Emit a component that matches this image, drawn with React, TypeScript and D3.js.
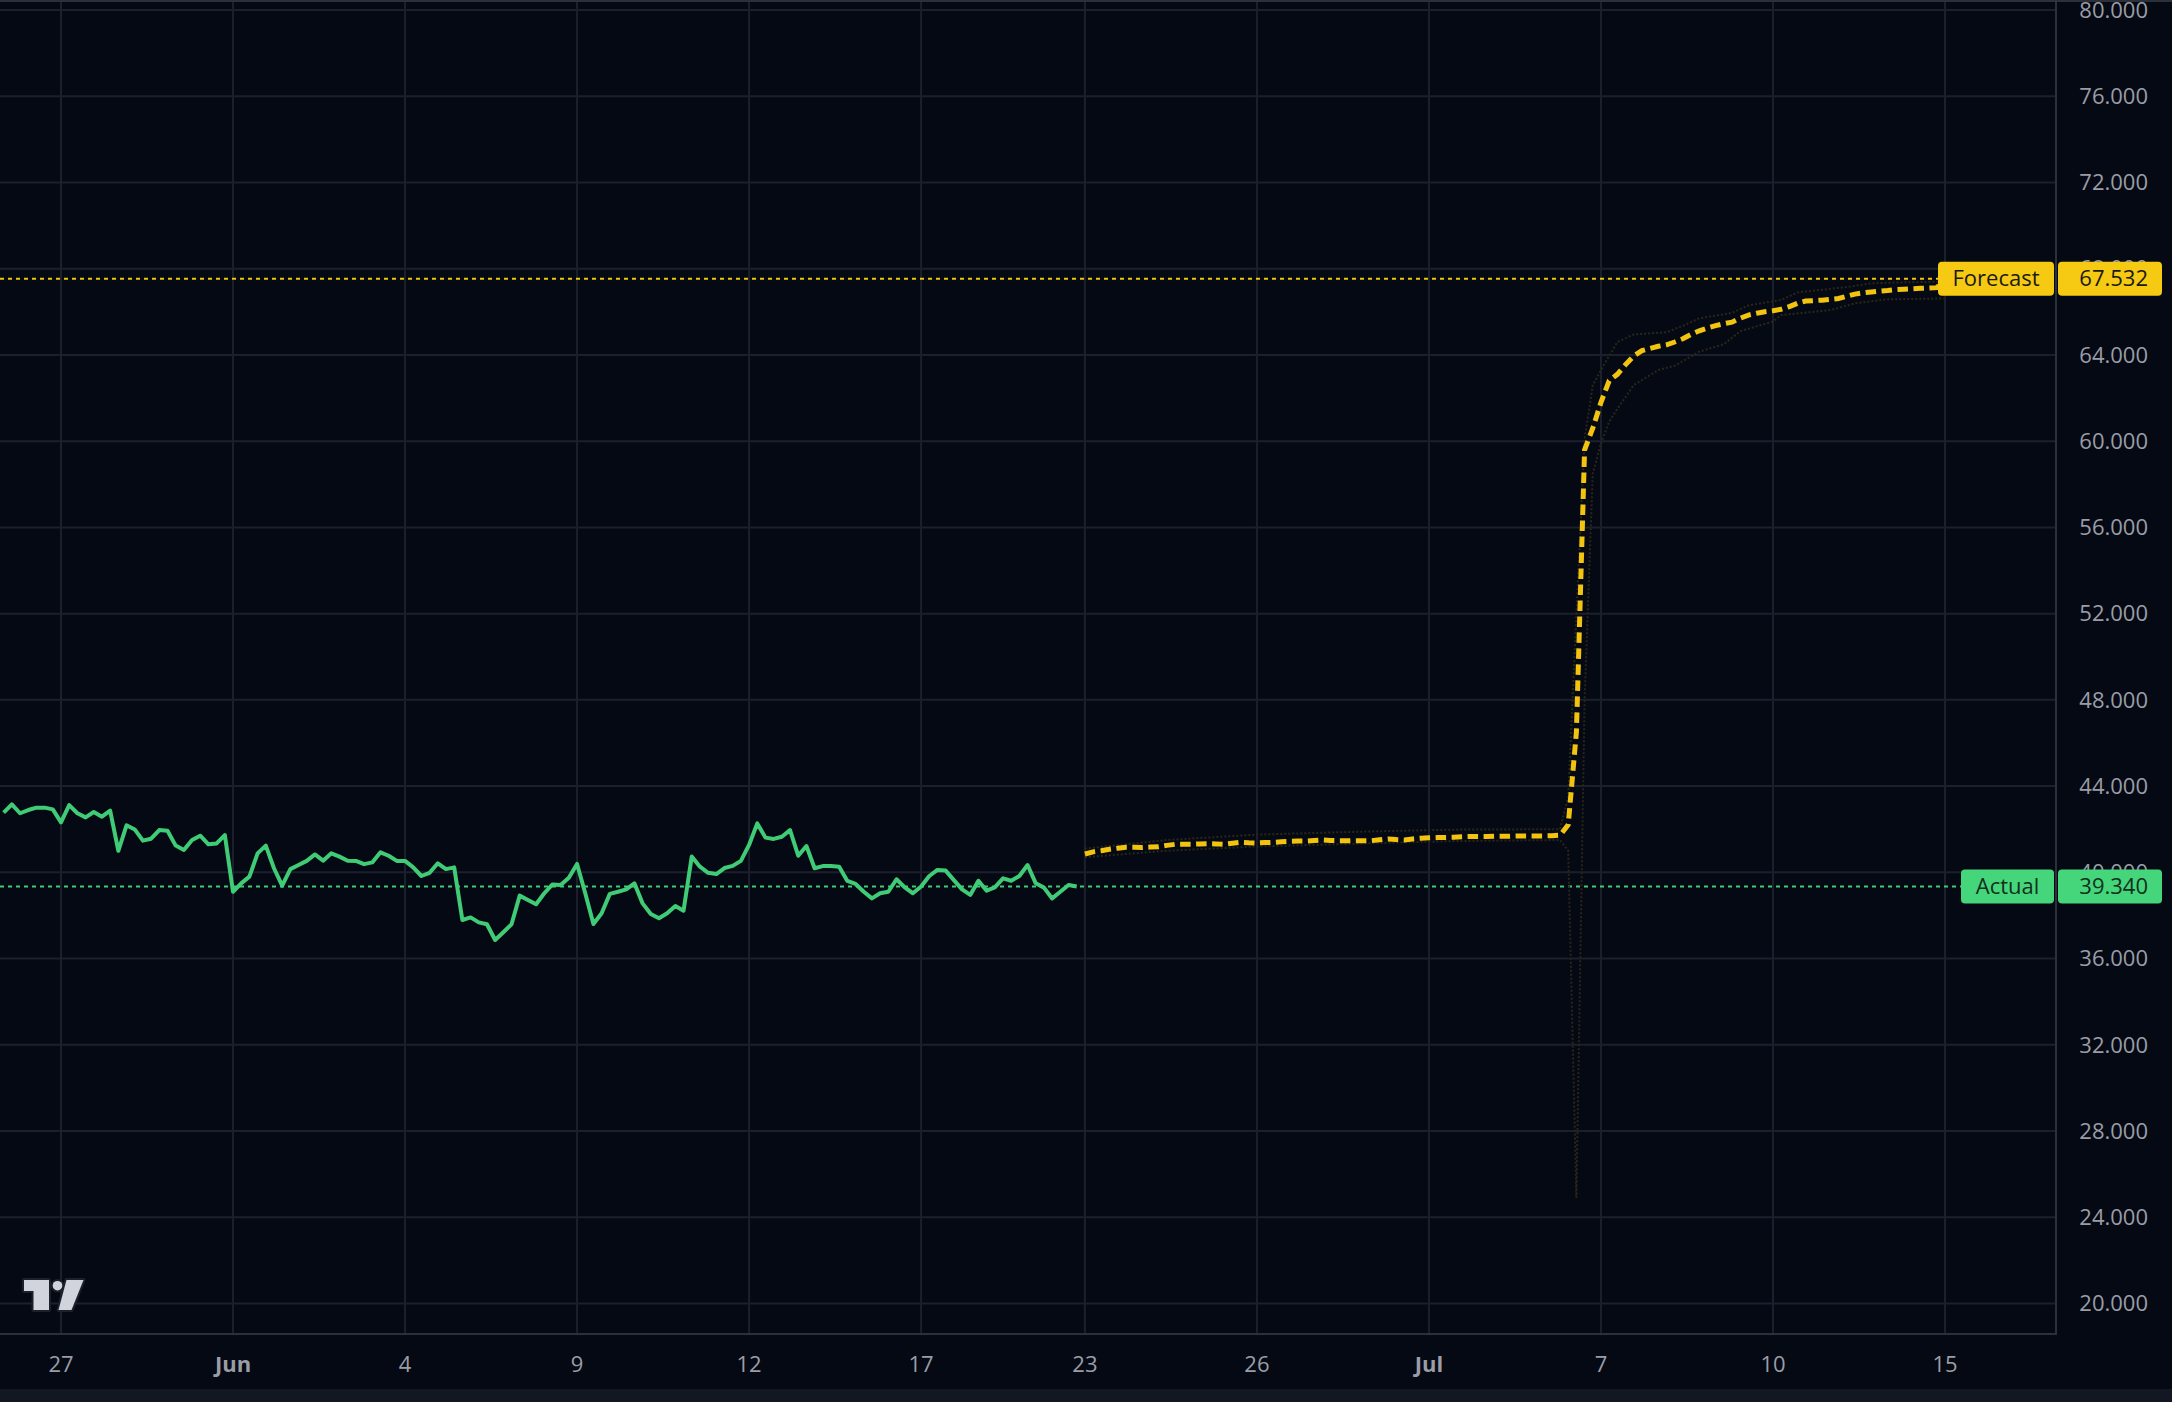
import React from "react";
import * as d3 from "d3";

// bar index of the first actual value; one bar per step
const actualStart = -7;
const actualValues = [
  42.77, 43.15, 42.74, 42.89, 43.0, 43.0, 42.92,
  42.32, 43.12, 42.74, 42.55, 42.8, 42.58, 42.86,
  41.0, 42.18, 41.99, 41.47, 41.56, 41.96, 41.93,
  41.24, 41.04, 41.5, 41.7, 41.3, 41.34, 41.73,
  39.1, 39.49, 39.8, 40.88, 41.24, 40.19, 39.38,
  40.15, 40.34, 40.53, 40.83, 40.54, 40.88, 40.73,
  40.54, 40.53, 40.38, 40.46, 40.93, 40.77, 40.53,
  40.53, 40.23, 39.83, 39.98, 40.42, 40.15, 40.23,
  37.79, 37.91, 37.68, 37.59, 36.86, 37.22, 37.59,
  38.92, 38.72, 38.52, 39.03, 39.44, 39.41, 39.75,
  40.39, 39.03, 37.6, 38.1, 39.0, 39.1, 39.21,
  39.49, 38.56, 38.07, 37.87, 38.1, 38.44, 38.22,
  40.73, 40.26, 39.98, 39.92, 40.2, 40.3, 40.53,
  41.27, 42.27, 41.61, 41.55, 41.65, 41.96, 40.77,
  41.22, 40.19, 40.29, 40.29, 40.26, 39.6, 39.46,
  39.1, 38.79, 39.03, 39.1, 39.68, 39.3, 39.03,
  39.34, 39.83, 40.11, 40.08, 39.64, 39.21, 38.95,
  39.61, 39.15, 39.3, 39.72, 39.61, 39.83, 40.34,
  39.49, 39.29, 38.79, 39.1, 39.41, 39.34,
];

const forecastStart = 125;
const forecastValues = [
  40.85, 40.95, 41.0, 41.07, 41.12, 41.16, 41.16, 41.15, 41.17, 41.19,
  41.25, 41.3, 41.3, 41.3, 41.32, 41.33, 41.32, 41.3, 41.35, 41.39,
  41.37, 41.36, 41.38, 41.39, 41.42, 41.44, 41.45, 41.45, 41.48, 41.5,
  41.48, 41.47, 41.47, 41.47, 41.47, 41.47, 41.51, 41.55, 41.52, 41.5,
  41.55, 41.58, 41.6, 41.61, 41.62, 41.63, 41.65, 41.66, 41.66, 41.66,
  41.67, 41.67, 41.68, 41.69, 41.69, 41.69, 41.69, 41.7, 41.72, 42.2,
  46.5, 59.6, 60.6, 61.8, 62.8, 63.1, 63.55, 63.95, 64.2, 64.3,
  64.4, 64.47, 64.6, 64.75, 64.95, 65.12, 65.25, 65.36, 65.45, 65.52,
  65.7, 65.85, 65.93, 66.0, 66.05, 66.12, 66.24, 66.4, 66.5, 66.52,
  66.54, 66.58, 66.62, 66.72, 66.82, 66.88, 66.92, 66.96, 66.99, 67.03,
  67.05, 67.07, 67.09, 67.1, 67.12, 67.532,
];

// faint forecast band (sparse readings)
const upperBandBars = [125, 135, 146, 160, 170, 183, 184, 185, 186, 187, 188, 190, 192, 196, 198, 200, 204, 206, 210, 212, 218, 221, 224, 230];
const upperBandValues = [41.1, 41.5, 41.75, 41.9, 41.98, 42.0, 43.5, 52.0, 60.1, 62.6, 63.3, 64.6, 64.95, 65.05, 65.35, 65.7, 65.95, 66.3, 66.55, 66.9, 67.15, 67.32, 67.36, 67.4];
const lowerBandBars = [125, 135, 146, 160, 170, 183, 184, 185, 186, 187, 188, 189, 190, 192, 195, 197, 200, 203, 205, 209, 210, 216, 219, 223, 230];
const lowerBandValues = [40.7, 41.0, 41.2, 41.35, 41.45, 41.5, 41.0, 24.9, 48.0, 58.5, 59.9, 60.9, 61.5, 62.6, 63.3, 63.5, 64.15, 64.5, 65.1, 65.55, 65.85, 66.08, 66.39, 66.58, 66.62];

const xTickBars = [0, 21, 42, 63, 84, 105, 125, 146, 167, 188, 209, 230];
const xTickLabels = ["27", "Jun", "4", "9", "12", "17", "23", "26", "Jul", "7", "10", "15"];
const boldTicks = ["Jun", "Jul"];
const yTicks = [20, 24, 28, 32, 36, 40, 44, 48, 52, 56, 60, 64, 68, 72, 76, 80];

const actualLast = 39.34;
const forecastLast = 67.532;

const W = 2172;
const H = 1402;
const plotRight = 2056;
const plotBottom = 1334;

const BG = "#050914";
const GRID = "#1b202c";
const BORDER = "#2c303b";
const TEXT = "#9a9da6";
const GREEN = "#40cc76";
const GREEN_LABEL = "#45d67c";
const YELLOW = "#f2c40f";
const YELLOW_LABEL = "#f6c913";
const BAND = "#29261a";
const FONT = "'Open Sans', 'Noto Sans', sans-serif";

export default function App() {
  const x = d3.scaleLinear().domain([0, 230]).range([61, 1945]);
  const y = d3.scaleLinear().domain([20, 80]).range([1303.5, 10]);
  const fmt = d3.format(".3f");

  const line = d3
    .line<[number, number]>()
    .x((d) => x(d[0]))
    .y((d) => y(d[1]));

  const actualPath = line(actualValues.map((v, i) => [actualStart + i, v]));
  const forecastPath = line(forecastValues.map((v, i) => [forecastStart + i, v]));
  const upperPath = line(upperBandBars.map((b, i) => [b, upperBandValues[i]]));
  const lowerPath = line(lowerBandBars.map((b, i) => [b, lowerBandValues[i]]));

  const yF = y(forecastLast);
  const yA = y(actualLast);

  return (
    <svg
      width={W}
      height={H}
      style={{ position: "fixed", left: 0, top: 0, background: BG, fontFamily: FONT }}
    >
      <rect x={0} y={0} width={W} height={H} fill={BG} />

      {/* grid */}
      {yTicks.map((t) => (
        <line key={"gy" + t} x1={0} x2={plotRight} y1={y(t)} y2={y(t)} stroke={GRID} strokeWidth={2} />
      ))}
      {xTickBars.map((b) => (
        <line key={"gx" + b} x1={x(b)} x2={x(b)} y1={0} y2={plotBottom} stroke={GRID} strokeWidth={2} />
      ))}

      {/* borders */}
      <line x1={0} x2={W} y1={1} y2={1} stroke={BORDER} strokeWidth={2} />
      <line x1={plotRight} x2={plotRight} y1={0} y2={plotBottom + 1} stroke={BORDER} strokeWidth={2} />
      <line x1={0} x2={plotRight + 1} y1={plotBottom} y2={plotBottom} stroke={BORDER} strokeWidth={2} />
      <rect x={0} y={1389} width={W} height={H - 1389} fill="#121722" />

      {/* price lines */}
      <line x1={0} x2={plotRight} y1={yF} y2={yF} stroke={YELLOW} strokeWidth={2} strokeDasharray="4 4" />
      <line x1={0} x2={plotRight} y1={yA} y2={yA} stroke={GREEN} strokeWidth={2} strokeDasharray="4 4" />

      {/* forecast band */}
      <path d={upperPath ?? ""} fill="none" stroke={BAND} strokeWidth={2} strokeDasharray="2 2" />
      <path d={lowerPath ?? ""} fill="none" stroke={BAND} strokeWidth={2} strokeDasharray="2 2" />

      {/* series */}
      <path d={actualPath ?? ""} fill="none" stroke={GREEN} strokeWidth={4} strokeLinejoin="round" />
      <path
        d={forecastPath ?? ""}
        fill="none"
        stroke={YELLOW}
        strokeWidth={5}
        strokeDasharray="10.5 5.5"
      />

      {/* y axis labels */}
      {yTicks.map((t) => (
        <text
          key={"ty" + t}
          x={2148}
          y={y(t)}
          dy="0.35em"
          textAnchor="end"
          fontSize={22}
          fill={TEXT}
        >
          {fmt(t)}
        </text>
      ))}

      {/* x axis labels */}
      {xTickBars.map((b, i) => (
        <text
          key={"tx" + b}
          x={x(b)}
          y={1364}
          dy="0.35em"
          textAnchor="middle"
          fontSize={22}
          fontWeight={boldTicks.includes(xTickLabels[i]) ? 700 : 400}
          fill={TEXT}
        >
          {xTickLabels[i]}
        </text>
      ))}

      {/* forecast label */}
      <rect x={1938} y={yF - 17} width={116} height={34} rx={4} fill={YELLOW_LABEL} />
      <text x={1996} y={yF} dy="0.35em" textAnchor="middle" fontSize={22} fill="#1a1a14">
        Forecast
      </text>
      <rect x={2058} y={yF - 17} width={104} height={34} rx={4} fill={YELLOW_LABEL} />
      <text x={2148} y={yF} dy="0.35em" textAnchor="end" fontSize={22} fill="#1a1a14">
        {fmt(forecastLast)}
      </text>

      {/* actual label */}
      <rect x={1961} y={yA - 17} width={93} height={34} rx={4} fill={GREEN_LABEL} />
      <text x={2007.5} y={yA} dy="0.35em" textAnchor="middle" fontSize={22} fill="#10301c">
        Actual
      </text>
      <rect x={2058} y={yA - 17} width={104} height={34} rx={4} fill={GREEN_LABEL} />
      <text x={2148} y={yA} dy="0.35em" textAnchor="end" fontSize={22} fill="#10301c">
        {fmt(actualLast)}
      </text>

      {/* logo */}
      <g fill="#d1d4dc" stroke="#1c202b" strokeWidth={4} strokeLinejoin="round" style={{ paintOrder: "stroke" }}>
        <path d="M24,1280 L49,1280 L49,1310 L33.5,1310 L33.5,1291 L24,1291 Z" />
        <circle cx={57.5} cy={1285.7} r={4.8} />
        <path d="M66.5,1280 L83.5,1280 L71.5,1310 L58.5,1310 Z" />
      </g>
    </svg>
  );
}
